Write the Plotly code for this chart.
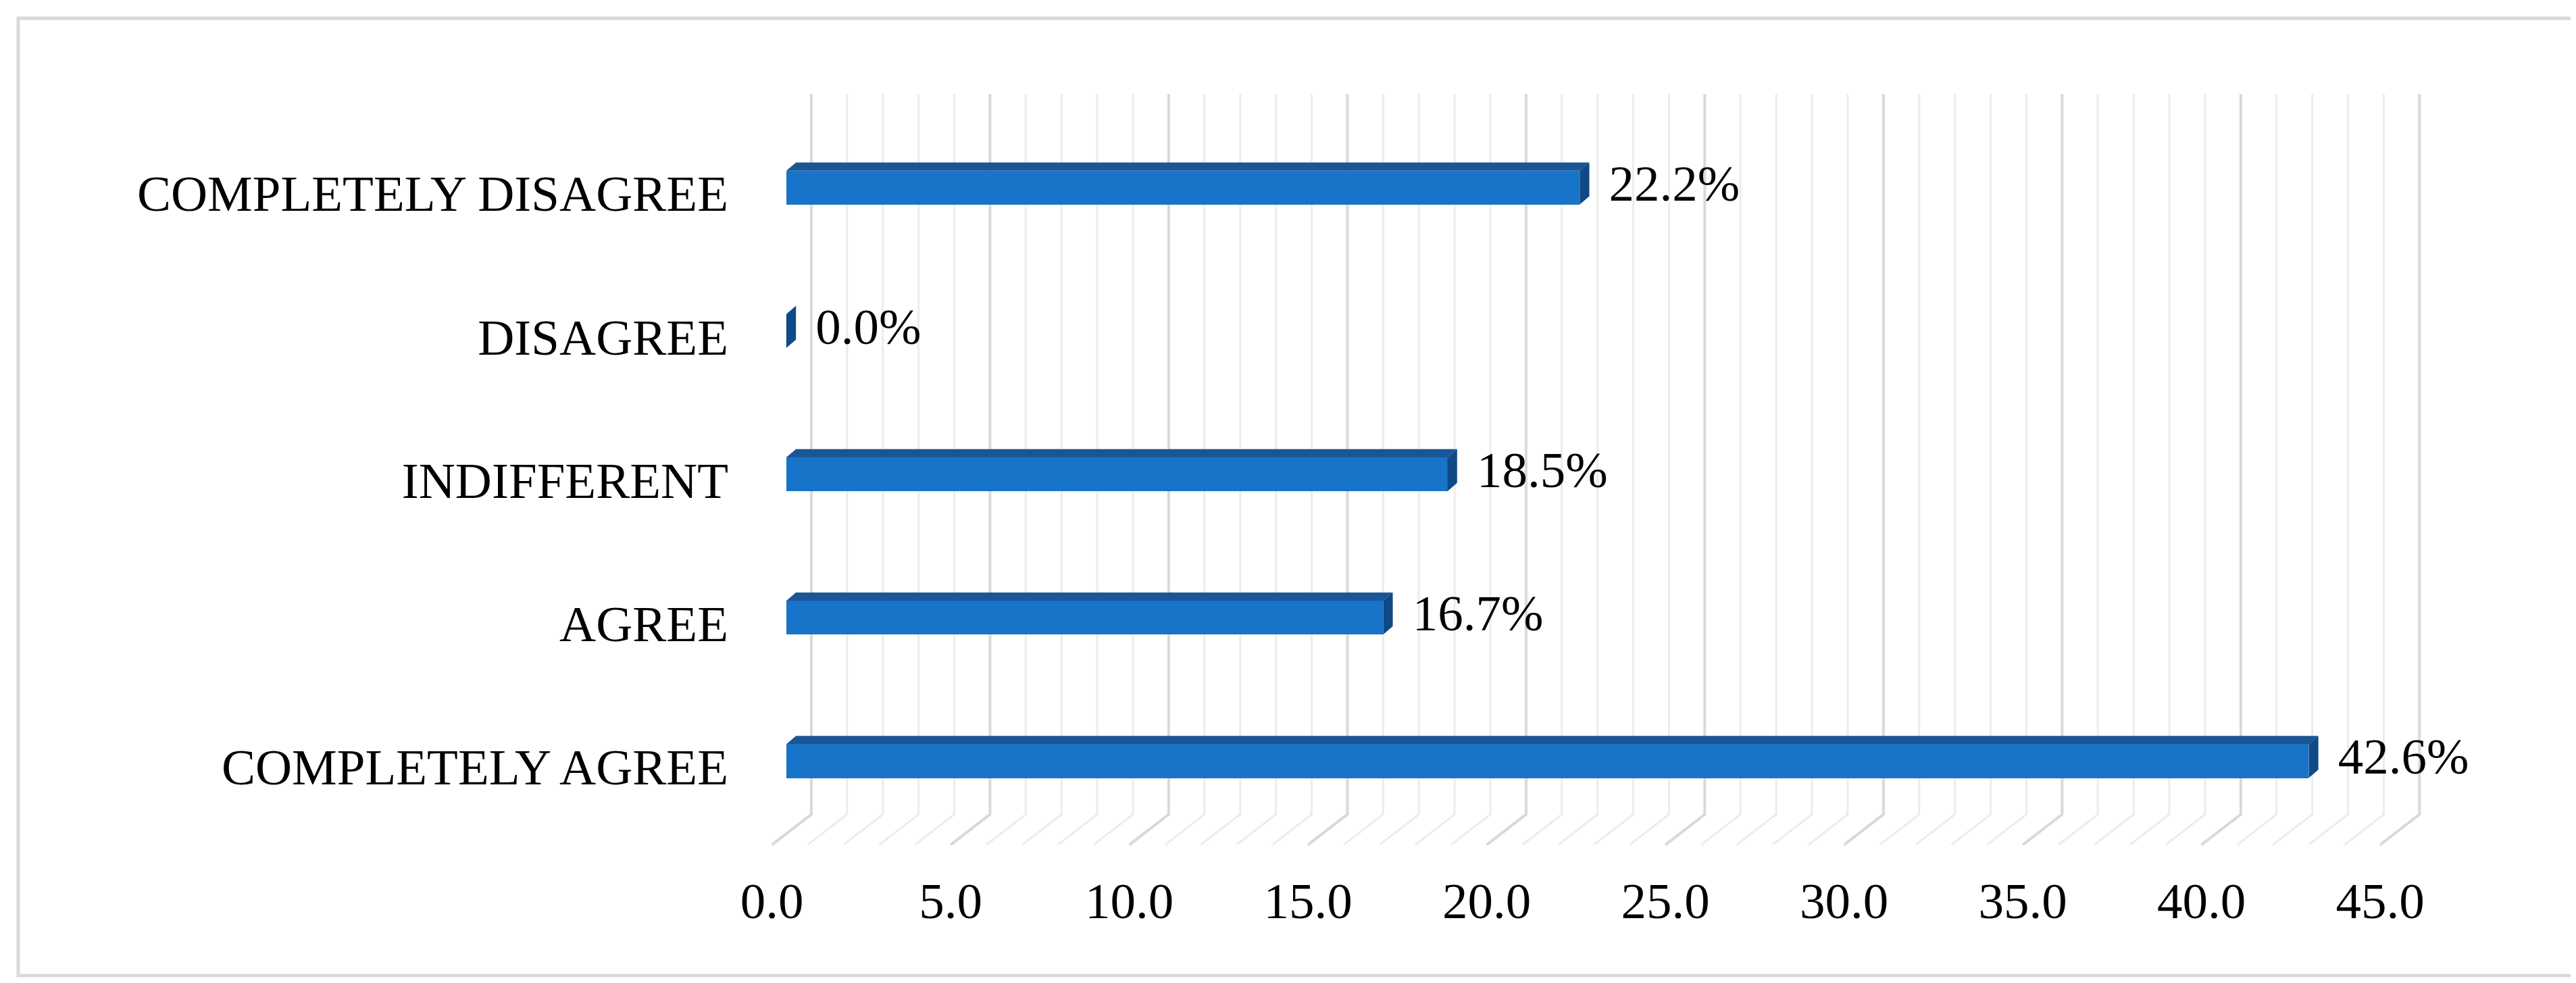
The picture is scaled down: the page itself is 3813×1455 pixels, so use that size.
import plotly.graph_objects as go

# ---------------- data ----------------
categories = ["COMPLETELY AGREE", "AGREE", "INDIFFERENT", "DISAGREE", "COMPLETELY DISAGREE"]
values = [42.6, 16.7, 18.5, 0.0, 22.2]
x_ticks = [0, 5, 10, 15, 20, 25, 30, 35, 40, 45]
x_tick_labels = ["0.0", "5.0", "10.0", "15.0", "20.0", "25.0", "30.0", "35.0", "40.0", "45.0"]
minor_step = 1

# ---------------- style / geometry ----------------
W, H = 3813, 1455
ML, MR, MT, MB = 1103, 118, 100, 188
X_RANGE = [-1, 48]
Y_RANGE = [-0.7, 4.8]
FONT = "Liberation Serif"
FS = 75

FACE = "#1874C9"
TOP = "#1A5696"
SIDE = "#0F4A86"
MAJOR = "#D9D9D9"
MINOR = "#ECECEC"

BAR_H = 0.236      # front-face height (category units)
DX = 0.27          # bar depth, x units
DY = 0.058         # bar depth, y units
BACK_DX = 0.70     # back wall offset from bar face
FRONT_DX = -0.40   # floor front edge offset from bar face
Y_TOP = 4.653
Y_BACK_BOTTOM = -0.372
Y_FRONT = -0.584
LABEL_DY = -0.04
TEXT_GAP = 0.55

ypos = list(range(len(categories)))

fig = go.Figure()

# gridlines (back wall + floor) as shapes below traces
shapes = []
xmax = x_ticks[-1]
v = 0
while v <= xmax:
    major = (v % 5 == 0)
    col = MAJOR if major else MINOR
    wdt = 4 if major else 3
    path = (f"M {v + BACK_DX} {Y_TOP} L {v + BACK_DX} {Y_BACK_BOTTOM} "
            f"L {v + FRONT_DX} {Y_FRONT}")
    shapes.append(dict(type="path", path=path, xref="x", yref="y",
                       line=dict(color=col, width=wdt), layer="below"))
    v += minor_step

# border around whole chart (paper coords derived from pixel frame)
pw, ph = W - ML - MR, H - MT - MB
def px2paper_x(px):
    return (px - ML) / pw
def py2paper_y(py):
    return (H - MB - py) / ph
shapes.append(dict(type="rect", xref="paper", yref="paper",
                   x0=px2paper_x(19), x1=px2paper_x(3805),
                   y0=py2paper_y(1436), y1=py2paper_y(19),
                   line=dict(color="#D9D9D9", width=5), layer="below"))

# front faces
fig.add_trace(go.Bar(y=ypos, x=values, orientation="h", width=BAR_H,
                     marker=dict(color=FACE, line=dict(width=0)),
                     hoverinfo="skip", showlegend=False))

# top and side faces
for c, val in zip(ypos, values):
    yt = c + BAR_H / 2
    yb = c - BAR_H / 2
    if val > 0:
        fig.add_trace(go.Scatter(
            x=[0, val, val + DX, DX, 0], y=[yt, yt, yt + DY, yt + DY, yt],
            fill="toself", fillcolor=TOP, mode="lines", line=dict(width=0, color=TOP),
            hoverinfo="skip", showlegend=False))
    fig.add_trace(go.Scatter(
        x=[val, val + DX, val + DX, val, val], y=[yb, yb + DY, yt + DY, yt, yb],
        fill="toself", fillcolor=SIDE, mode="lines", line=dict(width=0, color=SIDE),
        hoverinfo="skip", showlegend=False))

# data labels
fig.add_trace(go.Scatter(
    x=[val + DX + TEXT_GAP for val in values], y=ypos,
    text=[f"{val:.1f}%" for val in values], mode="text",
    textposition="middle right", textfont=dict(family=FONT, size=FS, color="black"),
    cliponaxis=False, hoverinfo="skip", showlegend=False))

fig.update_layout(
    width=W, height=H,
    margin=dict(l=ML, r=MR, t=MT, b=MB, pad=0),
    paper_bgcolor="white", plot_bgcolor="white",
    font=dict(family=FONT, size=FS, color="black"),
    shapes=shapes,
    bargap=0,
    xaxis=dict(range=X_RANGE, showgrid=False, zeroline=False, showline=False,
               tickvals=[t + FRONT_DX for t in x_ticks], ticktext=x_tick_labels,
               ticks="", ticklabelstandoff=8, tickfont=dict(family=FONT, size=FS)),
    yaxis=dict(range=Y_RANGE, showgrid=False, zeroline=False, showline=False,
               tickvals=[c + LABEL_DY for c in ypos], ticktext=categories,
               ticks="", ticklabelstandoff=32, tickfont=dict(family=FONT, size=FS)),
)

fig.write_html("out.html")
